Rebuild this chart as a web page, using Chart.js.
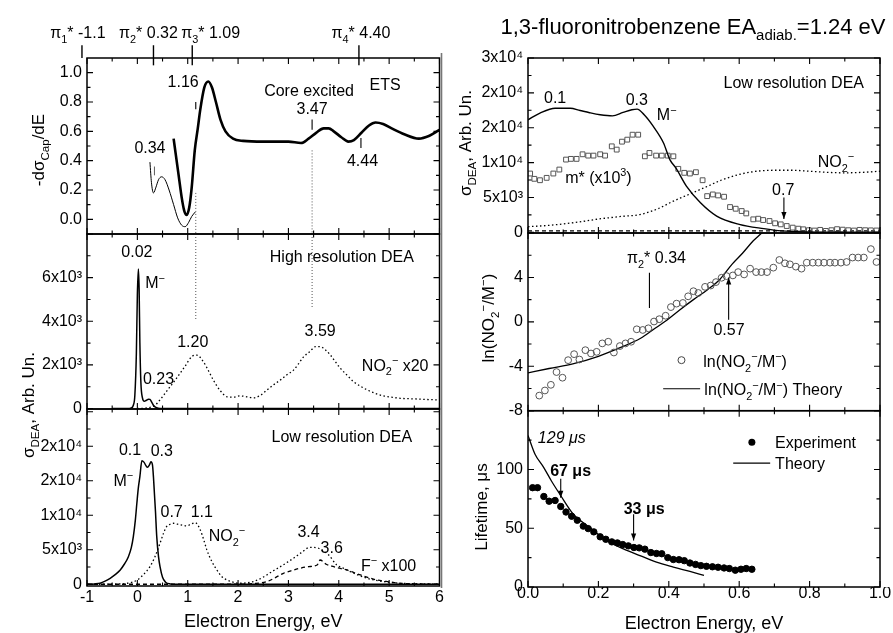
<!DOCTYPE html>
<html><head><meta charset="utf-8">
<script src="https://cdn.jsdelivr.net/npm/chart.js@4/dist/chart.umd.min.js"></script>
<style>
html,body{margin:0;padding:0;background:#fff;overflow:hidden;width:893px;height:633px}
#wrap{position:relative;width:893px;height:633px;overflow:hidden}
canvas{position:absolute;top:0}
</style></head>
<body>
<div id="wrap">
<canvas id="L1" width="450" height="640" style="left:0"></canvas>
<canvas id="L2" width="450" height="640" style="left:0"></canvas>
<canvas id="L3" width="450" height="640" style="left:0"></canvas>
<canvas id="R1" width="453" height="640" style="left:440px"></canvas>
<canvas id="R2" width="453" height="640" style="left:440px"></canvas>
<canvas id="R3" width="453" height="640" style="left:440px"></canvas>
</div>
<script>
// ---------------- DATA ----------------
// Left panel 1: ETS derivative
const etsThickE = [0.72,0.76,0.82,0.88,0.93,0.98,1.03,1.08,1.14,1.2,1.25,1.33,1.41,1.48,1.56,1.65,1.75,1.9,2.1,2.5,3.0,3.25,3.4,3.55,3.7,3.8,3.9,4.05,4.19,4.3,4.45,4.6,4.73,4.88,5.05,5.3,5.59,5.8,6.0];
const etsThickV = [0.55,0.45,0.3,0.15,0.06,0.03,0.08,0.22,0.47,0.62,0.75,0.9,0.94,0.9,0.8,0.68,0.6,0.55,0.535,0.53,0.53,0.52,0.55,0.59,0.62,0.62,0.6,0.56,0.53,0.54,0.59,0.64,0.66,0.65,0.62,0.58,0.55,0.57,0.61];
const etsThinE = [0.25,0.28,0.32,0.37,0.42,0.48,0.55,0.63,0.72,0.8,0.88,0.95,1.02,1.08,1.15];
const etsThinV = [0.39,0.25,0.18,0.22,0.27,0.29,0.27,0.2,0.1,0.01,-0.04,-0.05,-0.02,0.02,0.05];
const piStates = [-1.1, 0.32, 1.09, 4.40];
const piNames = ['π_{1}* -1.1','π_{2}* 0.32','π_{3}* 1.09','π_{4}* 4.40'];
const piLabelE = [-1.18, 0.22, 1.455, 4.44];
const guideE = [1.16, 3.47];

// Left panel 2: high resolution DEA
const hiMmE = [-0.5,-0.2,-0.12,-0.08,-0.05,-0.02,0.0,0.02,0.035,0.05,0.07,0.1,0.14,0.18,0.22,0.25,0.29,0.33,0.38,0.45,0.6,1,2,3,4,5,6];
const hiMmV = [0,0,30,150,600,2500,5200,6400,5500,3000,1200,500,330,380,430,420,270,120,40,0,0,0,0,0,0,0,0];
const hiNoE = [0,0.2,0.35,0.45,0.55,0.65,0.75,0.85,0.95,1.08,1.18,1.31,1.42,1.51,1.64,1.78,1.9,2.04,2.17,2.3,2.44,2.57,2.7,2.84,2.97,3.1,3.2,3.3,3.42,3.54,3.63,3.73,3.83,3.93,4.03,4.16,4.29,4.42,4.56,4.72,4.89,5.05,5.22,5.42,5.62,5.8,5.95];
const hiNoV = [0,30,150,400,700,1000,1300,1620,1950,2380,2450,2150,1700,1300,840,540,520,580,540,490,600,840,1080,1310,1550,1760,2050,2370,2600,2840,2840,2700,2460,2150,1850,1540,1240,1040,860,700,580,520,470,450,430,410,400];

// Left panel 3: low resolution DEA
const loMmE = [-1,-0.85,-0.74,-0.64,-0.54,-0.44,-0.34,-0.26,-0.18,-0.12,-0.08,-0.04,-0.01,0.02,0.05,0.09,0.13,0.17,0.2,0.24,0.27,0.3,0.32,0.34,0.36,0.385,0.42,0.45,0.5,0.56,0.65,0.8,1.5,3,4.5,6];
const loMmV = [0,50,150,450,870,1400,2070,2900,3960,5300,6900,9300,11740,14000,15590,17900,17700,17200,16950,17300,17760,17300,15500,13000,10500,6900,4000,2550,1010,300,50,0,0,0,0,0];
const loNoE = [-1,-0.5,-0.2,0,0.12,0.25,0.35,0.45,0.52,0.58,0.65,0.72,0.8,0.9,0.98,1.06,1.15,1.25,1.32,1.38,1.48,1.58,1.68,1.78,1.9,2.04,2.17,2.3,2.44,2.57,2.7,2.84,2.97,3.1,3.25,3.43,3.6,3.7,3.8,3.96,4.1,4.23,4.4,4.56,4.72,4.89,5.05,5.22,5.5,5.8,6.0];
const loNoV = [0,20,150,620,1400,2550,4000,5940,7400,8350,8700,8840,8700,8550,8450,8700,8930,7870,6400,4970,3300,2070,1100,620,300,145,200,380,800,1350,1950,2550,3150,3770,4550,5360,5220,4800,4250,2800,2300,1830,1300,870,600,380,250,145,80,40,20];
const loFE = [-1,0,1,2,2.3,2.57,2.75,2.9,3.05,3.23,3.4,3.57,3.63,3.75,3.9,4.03,4.16,4.3,4.43,4.6,4.76,5.0,5.22,5.5,6.0];
const loFV = [0,0,0,0,100,380,1000,1590,1950,2320,2550,2800,3520,2900,2550,2300,2070,1700,1350,950,620,350,145,60,0];

// Right panel 1: low resolution DEA (0-1 eV)
const r1MmE = [0,0.034,0.077,0.12,0.148,0.175,0.205,0.24,0.27,0.295,0.31,0.33,0.356,0.385,0.403,0.42,0.45,0.49,0.536,0.6,0.67,0.72,0.8,0.9,1.0];
const r1MmV = [16140,17100,17800,17800,17470,17150,16860,16700,17190,17570,17670,16860,15190,12810,10430,9240,6620,4240,2330,1140,520,200,50,0,0];
const r1MsE = [0.006,0.018,0.034,0.053,0.072,0.089,0.108,0.122,0.138,0.155,0.171,0.186,0.205,0.219,0.238,0.252,0.267,0.282,0.297,0.313,0.332,0.345,0.364,0.38,0.397,0.413,0.427,0.444,0.46,0.477,0.496,0.509,0.525,0.54,0.557,0.574,0.59,0.607,0.62,0.64,0.654,0.668,0.686,0.702,0.718,0.735,0.752,0.768,0.782,0.798,0.814,0.83,0.846,0.862,0.878,0.894,0.91,0.926,0.942,0.958,0.974,0.99];
const r1MsV = [8430,7670,7470,7810,8430,9000,10430,10530,10530,11190,11000,11000,11190,11000,12330,11860,13000,13290,14000,14000,10900,11380,11000,11000,11000,10900,9100,8530,8430,8620,7470,5190,5430,5290,5100,3620,3380,3050,2710,1860,1950,1760,1620,1290,1140,900,670,520,430,300,250,350,200,300,450,380,300,250,350,300,280,260];
const r1NoE = [0,0.06,0.13,0.2,0.26,0.32,0.37,0.41,0.46,0.51,0.55,0.6,0.65,0.7,0.75,0.8,0.85,0.9,0.95,1.0];
const r1NoV = [800,1000,1380,1900,2250,2570,3400,4400,5500,6600,7500,8300,8760,8900,8900,8760,8600,8530,8600,8760];
const r1FE = [0,0.25,0.5,0.75,1.0];
const r1FV = [200,200,200,200,200];

// Right panel 2: ln(NO2-/M-)
const r2CircE = [0.032,0.048,0.065,0.081,0.098,0.114,0.131,0.146,0.163,0.179,0.195,0.211,0.228,0.244,0.261,0.277,0.293,0.309,0.326,0.342,0.358,0.373,0.391,0.406,0.422,0.44,0.455,0.47,0.484,0.503,0.519,0.534,0.55,0.564,0.582,0.597,0.614,0.631,0.648,0.663,0.679,0.697,0.714,0.73,0.744,0.761,0.777,0.792,0.809,0.825,0.841,0.858,0.872,0.889,0.905,0.922,0.938,0.954,0.974,0.99];
const r2CircV = [-6.64,-6.18,-5.67,-4.52,-5.03,-3.45,-2.91,-3.39,-2.55,-2.85,-2.7,-1.94,-1.79,-2.76,-2.18,-1.94,-1.79,-0.67,-0.73,-0.58,0.03,0.24,0.55,1.33,1.64,1.7,2.3,2.76,2.6,3.15,3.27,3.58,3.97,4.12,4.18,4.48,4.27,4.79,4.48,4.48,4.48,4.88,5.57,5.27,5.18,4.97,4.79,5.33,5.33,5.33,5.33,5.33,5.33,5.33,5.39,5.79,5.79,5.79,6.55,5.39];
const r2TheoryE = [0,0.06,0.13,0.2,0.26,0.32,0.36,0.39,0.43,0.47,0.51,0.545,0.58,0.61,0.64,0.67,0.69];
const r2TheoryV = [-4.6,-4.2,-3.76,-3.1,-2.35,-1.48,-0.6,0.05,1.05,2.0,2.9,3.82,5.2,6.2,7.3,8.2,9.0];

// Right panel 3: lifetime
const r3ExpE = [0.013,0.027,0.045,0.06,0.077,0.093,0.108,0.124,0.14,0.157,0.171,0.187,0.205,0.221,0.238,0.254,0.269,0.285,0.301,0.316,0.332,0.349,0.365,0.38,0.397,0.413,0.429,0.444,0.46,0.476,0.491,0.507,0.524,0.54,0.557,0.572,0.589,0.605,0.62,0.636];
const r3ExpV = [84.5,84.5,77,73,73.6,68.5,63.8,60.2,56.8,51.8,49.7,46.9,42.7,40.6,38.4,37.5,36.1,35,33.6,33.3,32.2,29.3,28.5,28.3,25,23.4,23.2,22.4,20.4,19.2,18.2,17.6,17.2,16.8,16.2,15.7,14.3,15.1,15.7,15.1];
const r3TheoryE = [0,0.02,0.044,0.067,0.091,0.129,0.176,0.224,0.271,0.318,0.365,0.413,0.46,0.5];
const r3TheoryV = [129,113,102,90,78.7,61.9,50.6,39.4,32.4,26.7,21.1,16.9,13.2,9.9];

// Tick values and labels
const leftXTicks = [-1,0,1,2,3,4,5,6];
const leftXMinor = [-0.5,0.5,1.5,2.5,3.5,4.5,5.5];
const rightXTicks = [0,0.2,0.4,0.6,0.8,1.0];
const rightXMinor = [0.1,0.3,0.5,0.7,0.9];
const l1YTicks = [0,0.2,0.4,0.6,0.8,1.0];
const l1YLabels = ['0.0','0.2','0.4','0.6','0.8','1.0'];
const l1YMinor = [0.1,0.3,0.5,0.7,0.9];
const l2YTicks = [0,2000,4000,6000];
const l2YLabels = ['0','2x10³','4x10³','6x10³'];
const l2YMinor = [1000,3000,5000,7000];
const l3YTicks = [0,5000,10000,15000,20000];
const l3YLabels = ['0','5x10³','1x10⁴','2x10⁴','2x10⁴'];
const l3YMinor = [2500,7500,12500,17500,22500];
const r1YTicks = [0,5000,10000,15000,20000,25000];
const r1YLabels = ['0','5x10³','1x10⁴','2x10⁴','2x10⁴','3x10⁴'];
const r1YMinor = [2500,7500,12500,17500,22500];
const r2YTicks = [-8,-4,0,4];
const r2YLabels = ['-8','-4','0','4'];
const r2YMajorAll = [-8,-4,0,4,8];
const r2YMinor = [-6,-2,2,6];
const r3YTicks = [0,50,100];
const r3YLabels = ['0','50','100'];
const r3YMajorAll = [0,50,100,150];
const r3YMinor = [25,75,125];

// ---------------- HELPERS ----------------
const FONT = '"Liberation Sans", Arial, Helvetica, sans-serif';
Chart.defaults.font.family = FONT;
Chart.defaults.font.size = 16;
Chart.defaults.color = '#000';

const pts = (xs, ys) => xs.map((x, i) => ({x: x, y: ys[i]}));
function line(xs, ys, o) {
  return Object.assign({data: pts(xs, ys), showLine: true, pointRadius: 0, borderColor: '#000',
    borderWidth: 1.3, cubicInterpolationMode: 'monotone', fill: false}, o || {});
}
function marks(xs, ys, o) {
  return Object.assign({data: pts(xs, ys), showLine: false, pointRadius: 3, pointBorderWidth: 1,
    pointBorderColor: '#555', pointBackgroundColor: 'rgba(0,0,0,0)'}, o || {});
}

function parseRich(s) {
  const out = []; const re = /([_^])\{([^}]*)\}/g; let last = 0, m;
  while ((m = re.exec(s))) {
    if (m.index > last) out.push({t: s.slice(last, m.index), k: 0});
    out.push({t: m[2], k: m[1] === '_' ? 1 : 2});
    last = re.lastIndex;
  }
  if (last < s.length) out.push({t: s.slice(last), k: 0});
  return out;
}
function drawRich(ctx, s, x, y, o) {
  const size = o.size || 16, st = o.style || '';
  const parts = parseRich(s);
  let w = 0;
  parts.forEach(p => { const fs = p.k ? size * 0.68 : size; p.font = st + ' ' + fs + 'px ' + FONT;
    ctx.font = p.font; p.w = ctx.measureText(p.t).width; w += p.w; });
  let cx = o.align === 'left' ? x : (o.align === 'right' ? x - w : x - w / 2);
  ctx.textBaseline = 'alphabetic'; ctx.textAlign = 'left'; ctx.fillStyle = o.color || '#000';
  const base = y + size * 0.358;
  parts.forEach(p => { ctx.font = p.font;
    const dy = p.k === 1 ? size * 0.3 : (p.k === 2 ? -size * 0.42 : 0);
    ctx.fillText(p.t, cx, base + dy); cx += p.w; });
}

// decorations per panel (annotation texts in data coordinates)
const DECOR = {
  L1: {xMajor: leftXTicks, xMinor: leftXMinor, yMajor: l1YTicks, yMinor: l1YMinor,
    texts: [
      {x: 0.91, y: 0.94, t: '1.16'}, {x: 3.41, y: 0.88, t: 'Core excited'}, {x: 4.92, y: 0.92, t: 'ETS'},
      {x: 3.47, y: 0.76, t: '3.47'}, {x: 4.47, y: 0.40, t: '4.44'}, {x: 0.25, y: 0.49, t: '0.34'}
    ].concat(piNames.map((n, i) => ({x: piLabelE[i], y: 1.277, t: n}))),
    lines: [
      {x1: 1.16, y1: 0.80, x2: 1.16, y2: 0.75}, {x1: 3.47, y1: 0.68, x2: 3.47, y2: 0.61},
      {x1: 4.44, y1: 0.555, x2: 4.44, y2: 0.486}, {x1: 0.34, y1: 0.36, x2: 0.34, y2: 0.30, c: '#666'}
    ].concat(piStates.map(p => ({x1: p, y1: 1.187, x2: p, y2: p < -1 ? 1.1 : 1.05, w: 1.4}))),
    ptexts: [{x: 38, y: 150, t: '-dσ_{Cap}/dE', rot: true, size: 17}]
  },
  L2: {xMajor: leftXTicks, xMinor: leftXMinor, yMajor: l2YTicks.concat([8000]), yMinor: l2YMinor,
    texts: [
      {x: -0.01, y: 7186, t: '0.02'}, {x: 0.35, y: 5767, t: 'M^{−}'}, {x: 4.06, y: 6957, t: 'High resolution DEA'},
      {x: 1.10, y: 3099, t: '1.20'}, {x: 0.42, y: 1391, t: '0.23'}, {x: 3.63, y: 3570, t: '3.59'},
      {x: 5.12, y: 2000, t: 'NO_{2}^{−} x20'}
    ]
  },
  L3: {xMajor: leftXTicks, xMinor: leftXMinor, yMajor: l3YTicks.concat([25000]), yMinor: l3YMinor,
    texts: [
      {x: 4.06, y: 21490, t: 'Low resolution DEA'}, {x: -0.145, y: 19560, t: '0.1'}, {x: 0.485, y: 19460, t: '0.3'},
      {x: -0.28, y: 15110, t: 'M^{−}'}, {x: 0.68, y: 10520, t: '0.7'}, {x: 1.28, y: 10520, t: '1.1'},
      {x: 1.78, y: 7140, t: 'NO_{2}^{−}'}, {x: 3.40, y: 7620, t: '3.4'}, {x: 3.86, y: 5360, t: '3.6'},
      {x: 4.99, y: 2800, t: 'F^{−} x100'}
    ],
    ptexts: [{x: 28, y: 405, t: 'σ_{DEA}, Arb. Un.', rot: true, size: 17}]
  },
  R1: {xMajor: rightXTicks, xMinor: rightXMinor, yMajor: r1YTicks, yMinor: r1YMinor,
    texts: [
      {x: 0.755, y: 21530, t: 'Low resolution DEA'}, {x: 0.077, y: 19390, t: '0.1'}, {x: 0.309, y: 19140, t: '0.3'},
      {x: 0.394, y: 16860, t: 'M^{−}'}, {x: 0.875, y: 10190, t: 'NO_{2}^{−}'}, {x: 0.2, y: 7960, t: 'm* (x10^{3})'},
      {x: 0.725, y: 6140, t: '0.7'}
    ],
    lines: [{x1: 0.727, y1: 5000, x2: 0.727, y2: 1900, arrow: true}],
    ptexts: [
      {x: 253, y: 26, t: '1,3-fluoronitrobenzene EA_{adiab.}=1.24 eV', size: 22},
      {x: 25, y: 143, t: 'σ_{DEA}, Arb. Un.', rot: true, size: 17}
    ],
    plines: [{x1: 1.5, y1: 53, x2: 1.5, y2: 588, c: '#777', w: 1.6}]
  },
  R2: {xMajor: rightXTicks, xMinor: rightXMinor, yMajor: r2YMajorAll, yMinor: r2YMinor,
    texts: [
      {x: 0.365, y: 5.79, t: 'π_{2}* 0.34'}, {x: 0.571, y: -0.66, t: '0.57'},
      {x: 0.498, y: -3.55, t: 'ln(NO_{2}^{−}/M^{−})', align: 'left'},
      {x: 0.501, y: -6.1, t: 'ln(NO_{2}^{−}/M^{−}) Theory', align: 'left'}
    ],
    lines: [
      {x1: 0.345, y1: 4.42, x2: 0.345, y2: 1.25}, {x1: 0.57, y1: 0.2, x2: 0.57, y2: 4.0, arrow: true},
      {x1: 0.384, y1: -6.03, x2: 0.489, y2: -6.03}
    ],
    circles: [{x: 0.436, y: -3.45, r: 3.5, fill: false}],
    ptexts: [{x: 48, y: 318, t: 'ln(NO_{2}^{−}/M^{−})', rot: true, size: 17}]
  },
  R3: {xMajor: rightXTicks, xMinor: rightXMinor, yMajor: r3YMajorAll, yMinor: r3YMinor,
    texts: [
      {x: 0.096, y: 127, t: '129 μs', style: 'italic'}, {x: 0.121, y: 99, t: '67 μs', style: 'bold'},
      {x: 0.33, y: 67, t: '33 μs', style: 'bold'},
      {x: 0.702, y: 123.5, t: 'Experiment', align: 'left'}, {x: 0.702, y: 105.5, t: 'Theory', align: 'left'}
    ],
    lines: [
      {x1: 0.093, y1: 92, x2: 0.093, y2: 76, arrow: true}, {x1: 0.3, y1: 62, x2: 0.3, y2: 39.5, arrow: true},
      {x1: 0.583, y1: 105.4, x2: 0.688, y2: 105.4}
    ],
    circles: [{x: 0.636, y: 123.1, r: 3.5, fill: true}],
    ptexts: [{x: 41, y: 507, t: 'Lifetime, μs', rot: true, size: 17}]
  }
};

Chart.register({
  id: 'decor',
  afterDatasetsDraw(chart) {
    const d = DECOR[chart.canvas.id]; if (!d) return;
    const ctx = chart.ctx, a = chart.chartArea, sx = chart.scales.x, sy = chart.scales.y;
    const X = v => sx.getPixelForValue(v), Y = v => sy.getPixelForValue(v);
    ctx.save();
    function seg(x1, y1, x2, y2, l) {
      ctx.beginPath(); ctx.setLineDash(l.dash || []); ctx.lineWidth = l.w || 1.1; ctx.strokeStyle = l.c || '#000';
      ctx.moveTo(x1, y1); ctx.lineTo(x2, y2); ctx.stroke(); ctx.setLineDash([]);
      if (l.arrow) {
        const ang = Math.atan2(y2 - y1, x2 - x1), L = 7, W = 2.6;
        ctx.beginPath(); ctx.moveTo(x2, y2);
        ctx.lineTo(x2 - L * Math.cos(ang) + W * Math.sin(ang), y2 - L * Math.sin(ang) - W * Math.cos(ang));
        ctx.lineTo(x2 - L * Math.cos(ang) - W * Math.sin(ang), y2 - L * Math.sin(ang) + W * Math.cos(ang));
        ctx.closePath(); ctx.fillStyle = l.c || '#000'; ctx.fill();
      }
    }
    (d.lines || []).forEach(l => seg(X(l.x1), Y(l.y1), X(l.x2), Y(l.y2), l));
    (d.plines || []).forEach(l => seg(l.x1, l.y1, l.x2, l.y2, l));
    (d.circles || []).forEach(c => {
      ctx.beginPath(); ctx.arc(X(c.x), Y(c.y), c.r, 0, Math.PI * 2);
      if (c.fill) { ctx.fillStyle = '#000'; ctx.fill(); } else { ctx.lineWidth = 1; ctx.strokeStyle = '#444'; ctx.stroke(); }
    });
    // inward ticks
    ctx.strokeStyle = '#000'; ctx.lineWidth = 1.1;
    const tk = (vals, len) => vals.forEach(v => {
      const p = X(v); if (p < a.left - 0.5 || p > a.right + 0.5) return;
      ctx.beginPath(); ctx.moveTo(p, a.bottom); ctx.lineTo(p, a.bottom - len);
      ctx.moveTo(p, a.top); ctx.lineTo(p, a.top + len); ctx.stroke();
    });
    const tky = (vals, len) => vals.forEach(v => {
      const p = Y(v); if (p < a.top - 0.5 || p > a.bottom + 0.5) return;
      ctx.beginPath(); ctx.moveTo(a.left, p); ctx.lineTo(a.left + len, p);
      ctx.moveTo(a.right, p); ctx.lineTo(a.right - len, p); ctx.stroke();
    });
    tk(d.xMajor, 6); tk(d.xMinor, 3.5); tky(d.yMajor, 6); tky(d.yMinor, 3.5);
    // frame
    ctx.lineWidth = 1.5; ctx.strokeStyle = '#000';
    ctx.strokeRect(a.left, a.top, a.right - a.left, a.bottom - a.top);
    (d.texts || []).forEach(t => drawRich(ctx, t.t, X(t.x), Y(t.y), t));
    (d.ptexts || []).forEach(t => {
      if (t.rot) { ctx.save(); ctx.translate(t.x, t.y); ctx.rotate(-Math.PI / 2); drawRich(ctx, t.t, 0, 0, t); ctx.restore(); }
      else drawRich(ctx, t.t, t.x, t.y, t);
    });
    ctx.restore();
  }
});

function mk(id, c) {
  const showX = !!c.xTicks;
  return new Chart(document.getElementById(id), {
    type: 'scatter',
    data: {datasets: c.datasets},
    options: {
      responsive: false, animation: false, events: [],
      layout: {padding: {top: c.padTop, bottom: c.padBottom, left: 0, right: c.padRight}},
      plugins: {legend: {display: false}, tooltip: {enabled: false}},
      scales: {
        x: {type: 'linear', min: c.xMin, max: c.xMax, display: showX,
          grid: {display: false, drawTicks: false}, border: {display: false},
          afterBuildTicks: s => { if (showX) s.ticks = c.xTicks.map(v => ({value: v})); },
          ticks: {autoSkip: false, maxRotation: 0, minRotation: 0, padding: c.xTickPad || 0,
            callback: (v, i) => showX ? c.xLabels[i] : ''},
          title: {display: showX, text: 'Electron Energy, eV', font: {size: 18}, padding: {top: 0, bottom: c.xTitlePad || 0}},
          afterFit: s => { if (showX) s.height = c.xHeight; }
        },
        y: {type: 'linear', min: c.yMin, max: c.yMax,
          grid: {display: false, drawTicks: false}, border: {display: false},
          afterBuildTicks: s => { s.ticks = c.yTicks.map(v => ({value: v})); },
          ticks: {autoSkip: false, padding: 5, callback: (v, i) => c.yLabels[i]},
          afterFit: s => { s.width = c.yWidth; }
        }
      }
    }
  });
}

const dotted = {borderDash: [1.5, 2.5], borderWidth: 1.3};
const guideStyle = {borderDash: [1, 2], borderWidth: 1, borderColor: '#555', cubicInterpolationMode: 'default'};

mk('L1', {xMin: -1, xMax: 6, yMin: -0.1, yMax: 1.1, yTicks: l1YTicks, yLabels: l1YLabels,
  padTop: 58, padBottom: 406, padRight: 10.5, yWidth: 87,
  datasets: [
    line(etsThickE, etsThickV, {borderWidth: 2.6}),
    line(etsThinE, etsThinV, {borderWidth: 1}),
    line([guideE[0], guideE[0]], [0.18, -0.1], guideStyle),
    line([guideE[1], guideE[1]], [0.47, -0.1], guideStyle)
  ]});

mk('L2', {xMin: -1, xMax: 6, yMin: -20, yMax: 8000, yTicks: l2YTicks, yLabels: l2YLabels,
  padTop: 234, padBottom: 231, padRight: 10.5, yWidth: 87,
  datasets: [
    line(hiMmE, hiMmV, {borderWidth: 1.5}),
    line(hiNoE, hiNoV, dotted),
    line([guideE[0], guideE[0]], [8000, 4014], guideStyle),
    line([guideE[1], guideE[1]], [8000, 4650], guideStyle)
  ]});

mk('L3', {xMin: -1, xMax: 6, yMin: -250, yMax: 25400, yTicks: l3YTicks, yLabels: l3YLabels,
  padTop: 409, padBottom: 0, padRight: 10.5, yWidth: 87,
  xTicks: leftXTicks, xLabels: leftXTicks.map(String), xHeight: 54, xTickPad: 2, xTitlePad: 7.5,
  datasets: [
    line(loMmE, loMmV, {borderWidth: 1.5}),
    line(loNoE, loNoV, dotted),
    line(loFE, loFV, {borderDash: [4, 3], borderWidth: 1.3})
  ]});

mk('R1', {xMin: 0, xMax: 1, yMin: -100, yMax: 25000, yTicks: r1YTicks, yLabels: r1YLabels,
  padTop: 58, padBottom: 407, padRight: 13, yWidth: 88,
  datasets: [
    line(r1MmE, r1MmV, {borderWidth: 1.4}),
    marks(r1MsE, r1MsV, {pointStyle: 'rect', pointRadius: 3.4}),
    line(r1NoE, r1NoV, dotted),
    line(r1FE, r1FV, {borderDash: [4, 3], borderWidth: 1.3})
  ]});

mk('R2', {xMin: 0, xMax: 1, yMin: -8, yMax: 8, yTicks: r2YTicks, yLabels: r2YLabels,
  padTop: 233, padBottom: 229.3, padRight: 13, yWidth: 88,
  datasets: [
    marks(r2CircE, r2CircV, {pointStyle: 'circle', pointRadius: 3.4}),
    line(r2TheoryE, r2TheoryV, {borderWidth: 1.3})
  ]});

mk('R3', {xMin: 0, xMax: 1, yMin: 0, yMax: 150, yTicks: r3YTicks, yLabels: r3YLabels,
  padTop: 410.7, padBottom: 0, padRight: 13, yWidth: 88,
  xTicks: rightXTicks, xLabels: rightXTicks.map(v => v.toFixed(1)), xHeight: 53, xTickPad: -3, xTitlePad: 5,
  datasets: [
    marks(r3ExpE, r3ExpV, {pointStyle: 'circle', pointRadius: 3.2, pointBackgroundColor: '#000', pointBorderColor: '#000'}),
    line(r3TheoryE, r3TheoryV, {borderWidth: 1.3})
  ]});
</script>
</body></html>
